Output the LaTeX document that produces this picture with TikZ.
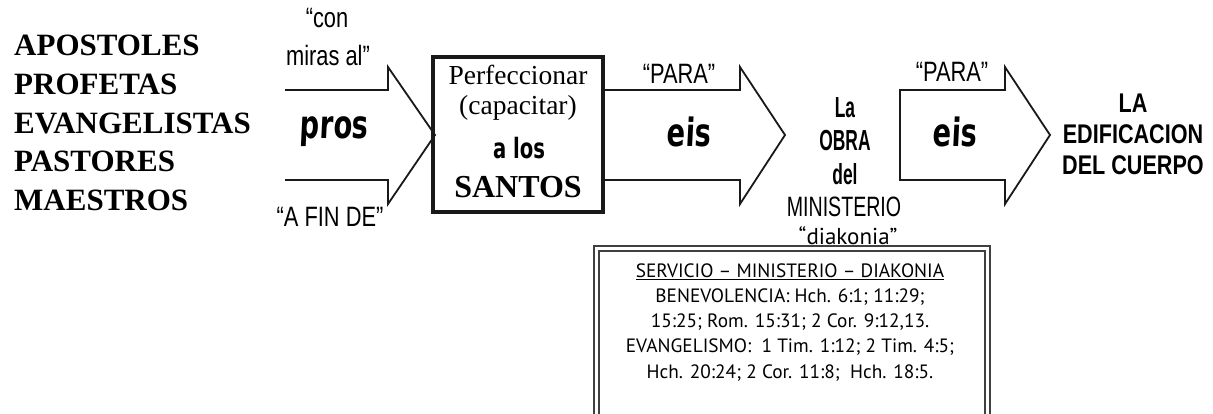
\documentclass[tikz,border=0pt]{standalone}
\usepackage{fontspec}
\setmainfont{Liberation Serif}
\newfontfamily\cond[FakeStretch=0.78]{Liberation Sans}
\newfontfamily\condmin[FakeStretch=0.7]{Liberation Sans}
\newfontfamily\condb[FakeStretch=0.6]{Liberation Sans Bold}
\newfontfamily\condbw[FakeStretch=0.8]{Liberation Sans Bold}
\newfontfamily\marker[FakeStretch=0.7,FakeSlant=0.05]{DejaVu Sans Bold}
\newfontfamily\markerup[FakeStretch=0.7]{DejaVu Sans Bold}
\newfontfamily\boxfont{PT Sans}
\begin{document}
\begin{tikzpicture}[x=1pt,y=-1pt,
  arrowshape/.style={draw=black!90,line width=1.8pt,line join=miter},
  lbl/.style={inner sep=0pt,align=center},
  listtxt/.style={inner sep=0pt,align=left,anchor=north west,font=\fontsize{31}{38.7}\selectfont\bfseries},
  thin/.style={font=\cond\fontsize{28}{32}\selectfont},
  greek/.style={font=\marker\fontsize{39}{44}\selectfont},
  boxtxt/.style={inner sep=0pt,font=\boxfont\fontsize{19.3}{22}\selectfont,text=black}]
\useasboundingbox (0,0) rectangle (1213,413);
% left list
\node[listtxt] (list) at (14,35) {APOSTOLES\\PROFETAS\\EVANGELISTAS\\PASTORES\\MAESTROS};
% arrow 1
\coordinate (a1s) at (285,90);
\coordinate (a1e) at (285,180);
\draw[arrowshape] (a1s) -- (388,90) -- (388,67) -- (435,135) -- (388,204) -- (388,180) -- (a1e);
\node[lbl,thin] (con) at (327,18) {“con};
\node[lbl,thin] (miras) at (328,55) {miras al”};
\node[lbl,greek] (pros) at (334,132) {pros};
\node[lbl,thin] (afin) at (330,217) {“A FIN DE”};
% box
\node[draw=black!90,line width=4pt,minimum width=170pt,minimum height=155pt,inner sep=0pt] (box) at (518,134) {};
\node[lbl,font=\fontsize{27.5}{33}\selectfont] (perf) at (518,75) {Perfeccionar};
\node[lbl,font=\fontsize{27.5}{33}\selectfont] (cap) at (518,108) {(capacitar)};
\node[lbl,font=\markerup\fontsize{28}{33}\selectfont] (alos) at (519,148) {a los};
\node[lbl,font=\fontsize{32}{36}\selectfont\bfseries] (santos) at (518,187) {SANTOS};
% arrow 2
\draw[arrowshape] (box.east|-a1s) -- (740,90) -- (740,67) -- (785,135) -- (740,204) -- (740,180) -- (box.east|-a1e);
\node[lbl,thin] (para1) at (679,74) {“PARA”};
\node[lbl,greek] (eis1) at (689,132) {eis};
% La OBRA
\node[lbl,font=\condb\fontsize{29}{33.5}\selectfont] (obra) at (845,141) {La\\OBRA\\del};
\node[lbl,font=\condmin\fontsize{28}{32}\selectfont] (min) at (844,207) {MINISTERIO};
\node[lbl,font=\boxfont\fontsize{23}{26}\selectfont] (diak) at (848,236) {“diakonia”};
% arrow 3
\draw[arrowshape] (1005,180) -- (900,180) -- (900,90) -- (1005,90) -- (1005,67) -- (1050,135) -- (1005,204) -- cycle;
\node[lbl,thin] (para2) at (952,72) {“PARA”};
\node[lbl,greek] (eis2) at (955,132) {eis};
% LA EDIFICACION
\node[lbl,font=\condbw\fontsize{27}{31}\selectfont] (edif) at (1133,134) {LA\\EDIFICACION\\DEL CUERPO};
% bottom box
\draw[line width=1.2pt,black!75] (594,430) -- (594,246) -- (990,246) -- (990,430);
\draw[line width=1.2pt,black!75] (599,430) -- (599,251) -- (985,251) -- (985,430);
\node[boxtxt] (b1) at (790,272) {\underline{SERVICIO – MINISTERIO – DIAKONIA}};
\node[boxtxt] (b2) at (790,297) {BENEVOLENCIA: Hch. 6:1; 11:29;};
\node[boxtxt] (b3) at (790,322) {15:25; Rom. 15:31; 2 Cor. 9:12,13.};
\node[boxtxt] (b4) at (790,347) {EVANGELISMO:\ \ 1 Tim. 1:12; 2 Tim. 4:5;};
\node[boxtxt] (b5) at (790,373) {Hch. 20:24; 2 Cor. 11:8;\ \ Hch. 18:5.};
\end{tikzpicture}
\end{document}
